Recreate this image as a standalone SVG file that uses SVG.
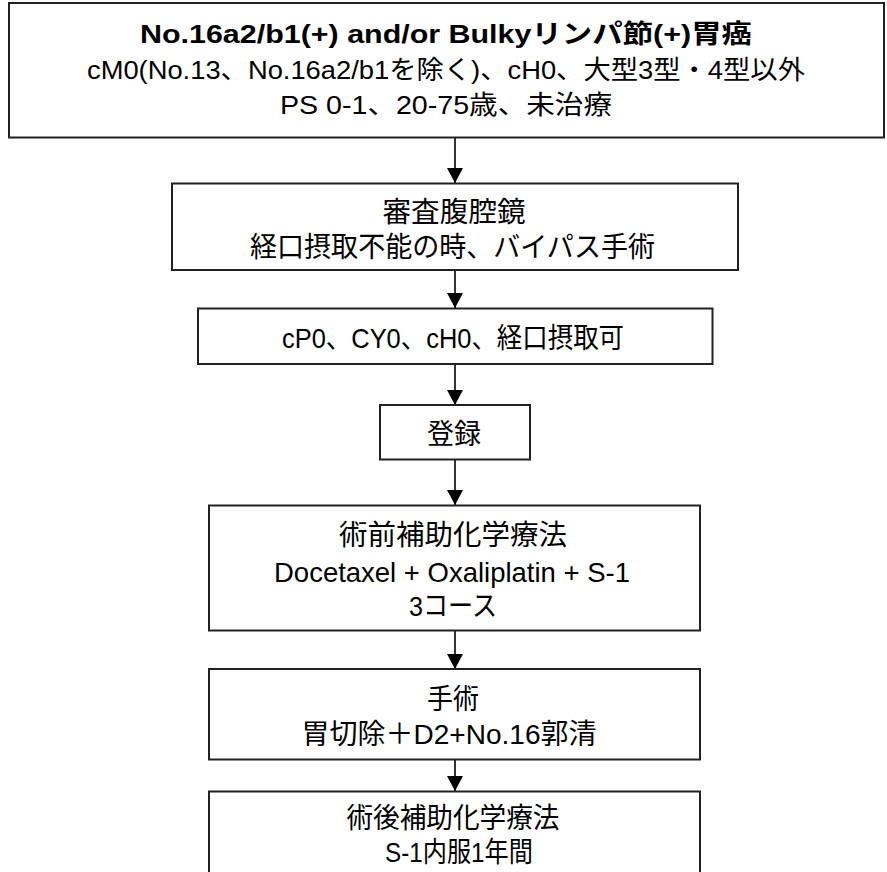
<svg xmlns="http://www.w3.org/2000/svg" width="887" height="872" viewBox="0 0 887 872">
<style>
.box{fill:#fff;stroke:#222;stroke-width:2}
.t{font-family:"Liberation Sans","Noto Sans CJK JP",sans-serif;font-size:28px;fill:#000;text-anchor:middle;dominant-baseline:central}
.h{font-family:"Liberation Sans","Noto Sans CJK JP",sans-serif;font-size:26px;fill:#000;text-anchor:middle;dominant-baseline:central}
.b{font-weight:bold}
.c{stroke:#000;stroke-width:1.6;fill:none}
</style>
<defs>
<marker id="ah" markerUnits="userSpaceOnUse" markerWidth="16" markerHeight="16" viewBox="0 0 16 16" refX="15" refY="8" orient="auto">
<path d="M0,0 L15,8 L0,16 Z" fill="#000"/>
</marker>
</defs>
<rect width="887" height="872" fill="#fff"/>
<g id="connectors">
<line class="c" x1="455" y1="138" x2="455" y2="183" marker-end="url(#ah)"/>
<line class="c" x1="455" y1="270" x2="455" y2="308" marker-end="url(#ah)"/>
<line class="c" x1="455" y1="364" x2="455" y2="405" marker-end="url(#ah)"/>
<line class="c" x1="455" y1="459" x2="455" y2="505" marker-end="url(#ah)"/>
<line class="c" x1="455" y1="631" x2="455" y2="669" marker-end="url(#ah)"/>
<line class="c" x1="455" y1="759" x2="455" y2="791" marker-end="url(#ah)"/>
</g>
<g id="n1">
<rect class="box" x="9" y="3" width="875" height="134.5"/>
<text class="h b" x="446" y="34" textLength="612" lengthAdjust="spacingAndGlyphs">No.16a2/b1(+) and/or Bulkyリンパ節(+)胃癌</text>
<text class="h" x="446" y="70" textLength="718" lengthAdjust="spacingAndGlyphs">cM0(No.13、No.16a2/b1を除く)、cH0、大型3型・4型以外</text>
<text class="h" x="446" y="105" textLength="332" lengthAdjust="spacingAndGlyphs">PS 0-1、20-75歳、未治療</text>
</g>
<g id="n2">
<rect class="box" x="172" y="183.5" width="566" height="86.5"/>
<text class="t" x="454" y="212.5" textLength="143" lengthAdjust="spacingAndGlyphs">審査腹腔鏡</text>
<text class="t" x="452.5" y="247" textLength="405" lengthAdjust="spacingAndGlyphs">経口摂取不能の時、バイパス手術</text>
</g>
<g id="n3">
<rect class="box" x="198" y="308.5" width="514.5" height="55.5"/>
<text class="t" x="453" y="338" textLength="342" lengthAdjust="spacingAndGlyphs">cP0、CY0、cH0、経口摂取可</text>
</g>
<g id="n4">
<rect class="box" x="380" y="405" width="150" height="54.5"/>
<text class="t" x="454" y="434" textLength="54" lengthAdjust="spacingAndGlyphs">登録</text>
</g>
<g id="n5">
<rect class="box" x="209" y="505.5" width="491" height="125"/>
<text class="t" x="453" y="535.5" textLength="228" lengthAdjust="spacingAndGlyphs">術前補助化学療法</text>
<text class="t" x="452" y="572" textLength="356" lengthAdjust="spacingAndGlyphs">Docetaxel + Oxaliplatin + S-1</text>
<text class="t" x="453" y="606" textLength="88" lengthAdjust="spacingAndGlyphs">3コース</text>
</g>
<g id="n6">
<rect class="box" x="209" y="669" width="491" height="90.5"/>
<text class="t" x="453" y="699" textLength="52" lengthAdjust="spacingAndGlyphs">手術</text>
<text class="t" x="449" y="734.5" textLength="295" lengthAdjust="spacingAndGlyphs">胃切除＋D2+No.16郭清</text>
</g>
<g id="n7">
<rect class="box" x="209" y="791.5" width="491" height="90"/>
<text class="t" x="453" y="818.5" textLength="213" lengthAdjust="spacingAndGlyphs">術後補助化学療法</text>
<text class="t" x="459" y="852" textLength="148" lengthAdjust="spacingAndGlyphs">S-1内服1年間</text>
</g>
</svg>
